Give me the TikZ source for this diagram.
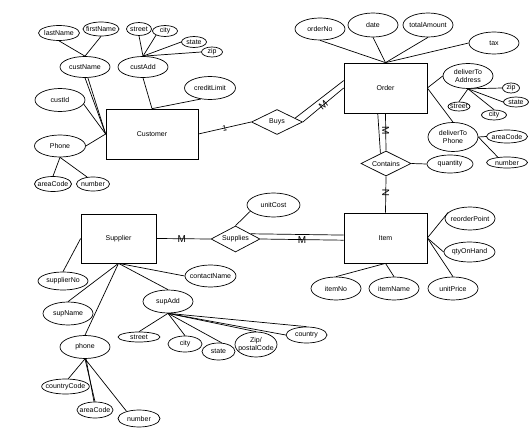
\documentclass[tikz,border=0pt]{standalone}
\usepackage{fontspec}
\setmainfont{Liberation Sans}
\usetikzlibrary{shapes.geometric}
\tikzstyle{entity} = [draw, rectangle, line width=0.7pt, inner sep=0pt, font=\fontsize{7}{8}\selectfont]
\tikzstyle{attr} = [draw, ellipse, line width=0.7pt, inner xsep=-3pt, inner ysep=0pt, align=center, font=\fontsize{7}{8}\selectfont]
\tikzstyle{rel} = [draw, diamond, aspect=2, line width=0.7pt, inner sep=0pt, font=\fontsize{7}{8}\selectfont]
\tikzstyle{card} = [inner sep=0pt, font=\fontsize{10}{10}\selectfont]
\tikzstyle{link} = [line width=0.7pt]
\tikzset{dims/.style 2 args={minimum width=#1, minimum height=#2}}

\begin{document}
\begin{tikzpicture}[x=1pt,y=-1pt]
\path[fill=white] (0,0) rectangle (531,436);

\node[entity, dims={92}{50}] (Customer) at (152,134) {Customer};
\node[rel, dims={51}{25}] (Buys) at (277,122) {Buys};
\node[attr, dims={41}{15}] (lastName) at (59,33) {lastName};
\node[attr, dims={36}{14}] (firstName) at (101,29) {firstName};
\node[attr, dims={50}{21}] (custName) at (85,67) {custName};
\node[attr, dims={50}{21}] (custAdd) at (143,67) {custAdd};
\node[attr, dims={25}{13}] (cstreet) at (139,29) {street};
\node[attr, dims={25}{11}] (ccity) at (165,31) {city};
\node[attr, dims={25}{11}] (cstate) at (194,42) {state};
\node[attr, dims={21}{10}] (czip) at (212,52) {zip};
\node[attr, dims={51}{23}] (creditLimit) at (210,88) {creditLimit};
\node[attr, dims={50}{23}] (custId) at (60,100) {custId};
\node[attr, dims={51}{22}] (phone) at (60,146) {Phone};
\node[attr, dims={37}{15}] (careaCode) at (53,184) {areaCode};
\node[attr, dims={33}{14}] (cnumber) at (93,184) {number};

\node[entity, dims={83}{50}] (Order) at (385.5,88) {Order};
\node[attr, dims={50}{22}] (orderNo) at (320,29) {orderNo};
\node[attr, dims={50}{24}] (date) at (373,25) {date};
\node[attr, dims={50}{24}] (totalAmount) at (428,25) {totalAmount};
\node[attr, dims={50}{22}] (tax) at (494,43) {tax};
\node[attr, dims={50}{25}] (deliverToAddress) at (468,76) {deliverTo\\Address};
\node[attr, dims={17}{10}] (dzip) at (511,88) {zip};
\node[attr, dims={25}{10}] (dstate) at (516,102) {state};
\node[attr, dims={22}{9}] (dstreet) at (459,106.5) {street};
\node[attr, dims={25}{10}] (dcity) at (494,115) {city};
\node[attr, dims={50}{29}] (deliverToPhone) at (453,137) {deliverTo\\Phone};
\node[attr, dims={41}{13}] (dareaCode) at (507,136.5) {areaCode};
\node[attr, dims={41}{11}] (dnumber) at (507,162.5) {number};
\node[rel, dims={50}{25}] (Contains) at (386,163.5) {Contains};
\node[attr, dims={46}{18}] (quantity) at (450,164) {quantity};

\node[entity, dims={83}{50}] (Item) at (385.5,238) {Item};
\node[attr, dims={50}{23}] (reorderPoint) at (470,218.5) {reorderPoint};
\node[attr, dims={51}{20}] (qtyOnHand) at (469.5,252) {qtyOnHand};
\node[attr, dims={50}{23}] (unitPrice) at (453,288.5) {unitPrice};
\node[attr, dims={50}{23}] (itemNo) at (336,288.5) {itemNo};
\node[attr, dims={50}{23}] (itemName) at (394,288.5) {itemName};
\node[rel, dims={49}{26}] (Supplies) at (235.5,239) {Supplies};
\node[attr, dims={53}{24}] (unitCost) at (273.5,205) {unitCost};

\node[entity, dims={75}{49}] (Supplier) at (118.5,238.5) {Supplier};
\node[attr, dims={50}{18}] (supplierNo) at (63,281) {supplierNo};
\node[attr, dims={50}{23}] (supName) at (68,313.5) {supName};
\node[attr, dims={50}{23}] (sphone) at (85,347) {phone};
\node[attr, dims={45}{15}] (countryCode) at (65.5,386.5) {countryCode};
\node[attr, dims={36}{16}] (sareaCode) at (95,410) {areaCode};
\node[attr, dims={42}{17}] (snumber) at (139,418.5) {number};
\node[attr, dims={51}{22}] (contactName) at (210.5,276) {contactName};
\node[attr, dims={50}{23}] (supAdd) at (168,301.5) {supAdd};
\node[attr, dims={42}{10}] (sstreet) at (139,337) {street};
\node[attr, dims={34}{16}] (scity) at (185,344) {city};
\node[attr, dims={33}{17}] (sstate) at (218.5,351.5) {state};
\node[attr, dims={42}{25}] (zipPostal) at (256,344.5) {Zip/\\postalCode};
\node[attr, dims={41}{16}] (country) at (306.5,335) {country};

\draw[link] (Customer.east) -- node[card, sloped, font=\fontsize{8}{8}\selectfont] (oneBuys) {1} (Buys.west);
\draw[link] (Buys.12) -- (Order.170);
\draw[link] (Buys.east) -- node[card, sloped] (mBuys) {M} (Order.west);
\draw[link] (Order.253) -- (Contains.119);
\draw[link] (Order.south) -- node[card, sloped, pos=0.45] (mContains) {M} (Contains.north);
\draw[link] (Contains.south) -- node[card, sloped, pos=0.46] (nContains) {N} (Item.north);
\draw[link] (Contains.east) -- (quantity.west);
\draw[link] (Supplier.east) -- node[card, pos=0.47] (mSupplier) {M} (Supplies.west);
\draw[link] (Supplies.19) -- (Item.176);
\draw[link] (Supplies.east) -- node[card] (mItem) {M} (Item.183);
\draw[link] (Supplies.north) -- (unitCost.195);

\draw[link] (custName.south) -- (Customer.west);
\draw[link] (custName.285) -- (Customer.west);
\draw[link] (custId.350) -- (Customer.west);
\draw[link] (phone.east) -- (Customer.west);
\draw[link] (custAdd.south) -- (Customer.north);
\draw[link] (creditLimit.230) -- (Customer.north);
\draw[link] (lastName.south) -- (custName.north);
\draw[link] (firstName.south) -- (custName.north);
\draw[link] (cstreet.south) -- (custAdd.north);
\draw[link] (ccity.205) -- (custAdd.north);
\draw[link] (cstate.west) -- (custAdd.north);
\draw[link] (czip.west) -- (custAdd.north);
\draw[link] (phone.south) -- (careaCode.north);
\draw[link] (phone.south) -- (cnumber.130);

\draw[link] (orderNo.south) -- (Order.north);
\draw[link] (date.south) -- (Order.north);
\draw[link] (totalAmount.south) -- (Order.north);
\draw[link] (tax.west) -- (Order.north);
\draw[link] (Order.east) -- (deliverToAddress.west);
\draw[link] (Order.east) -- (deliverToPhone.north);
\draw[link] (deliverToAddress.south) -- (dzip.west);
\draw[link] (deliverToAddress.south) -- (dstate.west);
\draw[link] (deliverToAddress.south) -- (dstreet.north);
\draw[link] (deliverToAddress.south) -- (dcity.north);
\draw[link] (deliverToPhone.east) -- (dareaCode.west);
\draw[link] (deliverToPhone.east) -- (dnumber.150);

\draw[link] (Item.east) -- (reorderPoint.165);
\draw[link] (Item.east) -- (qtyOnHand.west);
\draw[link] (Item.east) -- (unitPrice.north);
\draw[link] (Item.south) -- (itemNo.north);
\draw[link] (Item.south) -- (itemName.north);

\draw[link] (Supplier.west) -- (supplierNo.north);
\draw[link] (Supplier.south) -- (supName.north);
\draw[link] (Supplier.south) -- (sphone.north);
\draw[link] (Supplier.south) -- (contactName.west);
\draw[link] (Supplier.south) -- (supAdd.north);
\draw[link] (supAdd.south) -- (sstreet.north);
\draw[link] (supAdd.south) -- (scity.north);
\draw[link] (supAdd.south) -- (sstate.70);
\draw[link] (supAdd.south) -- (zipPostal.north);
\draw[link] (supAdd.south) -- (country.north);
\draw[link] (supAdd.south) -- (country.west);
\draw[link] (sphone.south) -- (countryCode.70);
\draw[link] (sphone.south) -- (sareaCode.north);
\draw[link] (sphone.275) -- (sareaCode.97);
\draw[link] (sphone.south) -- (snumber.150);
\end{tikzpicture}
\end{document}
